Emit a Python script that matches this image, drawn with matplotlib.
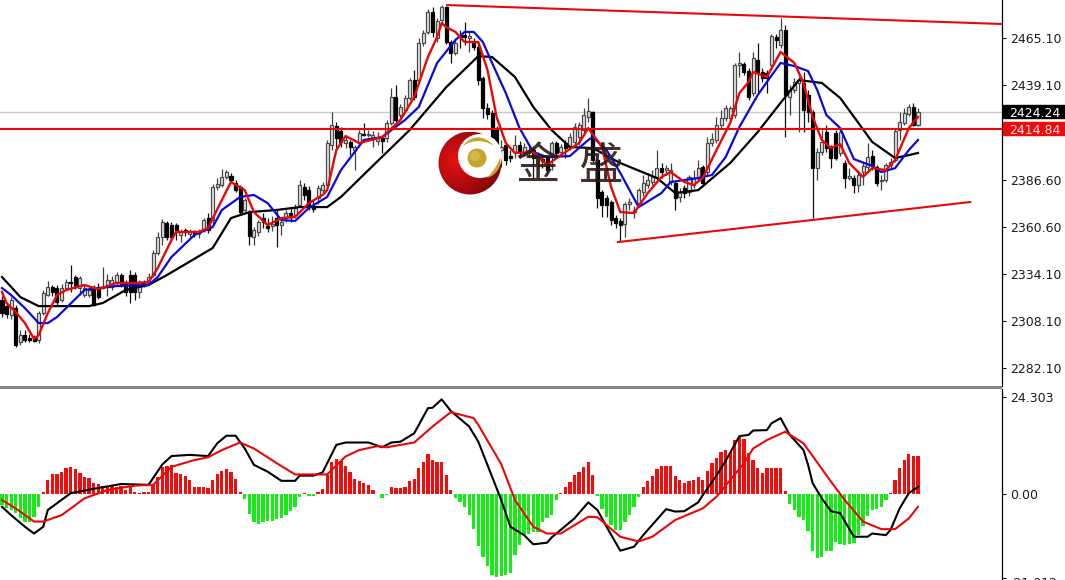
#!/usr/bin/env python3
import matplotlib

matplotlib.use("Agg")
import matplotlib.pyplot as plt
import numpy as np
from matplotlib.patches import Circle, PathPatch, Rectangle
from matplotlib.path import Path
from matplotlib.transforms import blended_transform_factory


# candles, one value per bar
candle_open = [
    2319.8, 2316.5, 2311.5, 2315.4, 2296.6, 2300.4, 2298.8, 2298.8, 2297.7, 2312.6,
    2322.6, 2327.1, 2326.5, 2319.8, 2326.5, 2329.8, 2332.6, 2326.5, 2322.6, 2322.6,
    2327.1, 2327.1, 2326.5, 2327.1, 2327.1, 2329.8, 2333.7, 2329.3, 2333.7, 2333.7,
    2324.3, 2329.8, 2329.3, 2333.7, 2345.9, 2354.8, 2362.5, 2361.4, 2361.4, 2355.9,
    2358.7, 2356.4, 2357.6, 2356.4, 2358.7, 2365.3, 2364.2, 2382.5, 2383.6, 2388.1,
    2388.6, 2384.7, 2382.5, 2369.8, 2368.1, 2354.8, 2357.6, 2365.3, 2360.9, 2360.9,
    2365.3, 2361.4, 2365.3, 2368.1, 2367.0, 2372.5, 2382.5, 2380.8, 2371.4, 2376.4,
    2380.8, 2383.6, 2405.8, 2416.3, 2413.6, 2406.9, 2407.5, 2403.0, 2406.9, 2411.9,
    2411.3, 2409.7, 2408.0, 2409.7, 2409.7, 2418.0, 2432.4, 2422.4, 2425.2, 2431.9,
    2441.8, 2441.8, 2462.4, 2468.5, 2479.5, 2465.1, 2475.1, 2482.3, 2462.9, 2456.8,
    2466.8, 2466.8, 2465.1, 2462.9, 2460.1, 2442.9, 2426.3, 2423.5, 2415.2, 2403.0,
    2405.8, 2399.7, 2401.9, 2405.8, 2401.9, 2401.4, 2403.0, 2395.8, 2398.0, 2398.6,
    2399.1, 2406.9, 2401.9, 2406.9, 2404.7, 2407.5, 2410.2, 2414.1, 2421.3, 2424.1,
    2397.5, 2379.7, 2376.4, 2374.2, 2365.3, 2363.7, 2362.0, 2373.1, 2368.6, 2373.6,
    2379.7, 2383.6, 2385.3, 2388.1, 2393.0, 2391.9, 2385.3, 2384.7, 2377.0, 2381.9,
    2379.7, 2383.6, 2387.5, 2393.6, 2390.8, 2406.9, 2408.6, 2416.9, 2420.8, 2420.8,
    2422.4, 2450.2, 2450.7, 2446.8, 2434.6, 2452.9, 2446.3, 2445.7, 2450.2, 2465.7,
    2461.2, 2469.6, 2432.4, 2436.3, 2440.2, 2440.2, 2433.5, 2424.1, 2393.0, 2401.9,
    2413.0, 2404.1, 2412.4, 2401.4, 2395.8, 2387.5, 2387.5, 2383.6, 2390.8, 2393.6,
    2399.7, 2393.6, 2385.8, 2386.4, 2394.7, 2397.5, 2414.1, 2418.0, 2423.0, 2426.9,
    2416.9,
]
candle_close = [
    2312.6, 2312.1, 2319.8, 2294.9, 2300.4, 2297.7, 2297.7, 2297.1, 2312.6, 2323.7,
    2327.1, 2324.3, 2318.7, 2326.5, 2329.8, 2329.3, 2327.1, 2332.0, 2326.5, 2325.4,
    2317.1, 2321.5, 2327.1, 2330.9, 2330.9, 2333.7, 2328.7, 2324.3, 2324.3, 2324.3,
    2329.8, 2328.2, 2332.6, 2345.9, 2354.8, 2363.1, 2354.8, 2354.8, 2358.7, 2357.6,
    2357.6, 2357.6, 2356.4, 2357.6, 2364.2, 2358.7, 2382.5, 2384.2, 2388.1, 2390.8,
    2386.4, 2380.8, 2368.6, 2375.3, 2355.3, 2358.7, 2363.1, 2363.1, 2359.8, 2362.0,
    2361.4, 2363.1, 2368.1, 2365.9, 2370.9, 2383.6, 2378.1, 2371.4, 2370.3, 2381.9,
    2383.6, 2406.9, 2416.9, 2409.7, 2407.5, 2408.6, 2404.7, 2404.7, 2412.4, 2411.3,
    2411.9, 2411.3, 2409.7, 2408.0, 2418.0, 2432.4, 2419.7, 2426.9, 2431.9, 2441.8,
    2432.4, 2462.4, 2467.9, 2479.5, 2468.5, 2474.6, 2482.3, 2462.9, 2456.8, 2462.4,
    2465.7, 2465.7, 2466.2, 2460.1, 2441.8, 2426.3, 2423.0, 2409.7, 2403.0, 2404.7,
    2397.5, 2398.6, 2405.8, 2401.9, 2404.7, 2403.0, 2398.6, 2399.1, 2396.9, 2391.9,
    2406.9, 2401.4, 2404.7, 2404.1, 2410.2, 2415.8, 2416.9, 2422.4, 2424.6, 2397.5,
    2376.4, 2372.5, 2372.5, 2364.2, 2362.5, 2361.4, 2373.1, 2374.2, 2369.8, 2380.8,
    2384.7, 2386.4, 2388.1, 2393.0, 2390.8, 2393.0, 2391.9, 2376.4, 2379.7, 2379.2,
    2388.1, 2387.5, 2393.0, 2384.7, 2406.9, 2409.1, 2416.9, 2420.8, 2426.3, 2426.3,
    2450.2, 2451.3, 2446.3, 2432.4, 2454.0, 2446.3, 2442.9, 2442.9, 2466.2, 2464.0,
    2469.6, 2433.5, 2436.3, 2440.7, 2441.8, 2425.2, 2424.1, 2393.0, 2401.9, 2407.5,
    2404.1, 2398.6, 2398.6, 2413.0, 2387.5, 2388.6, 2383.6, 2389.2, 2394.1, 2399.1,
    2394.7, 2384.7, 2386.4, 2394.7, 2396.4, 2413.6, 2418.6, 2423.5, 2426.9, 2416.9,
    2424.1,
]
candle_high = [
    2322.0, 2318.2, 2321.5, 2317.1, 2303.2, 2303.2, 2301.0, 2300.4, 2313.8, 2325.4,
    2330.4, 2328.2, 2328.2, 2328.7, 2331.5, 2339.3, 2333.7, 2333.2, 2328.2, 2327.1,
    2328.2, 2329.3, 2338.1, 2334.3, 2333.2, 2335.4, 2334.8, 2330.9, 2336.5, 2335.4,
    2330.9, 2330.9, 2334.8, 2347.6, 2357.6, 2364.8, 2363.7, 2363.1, 2362.5, 2359.2,
    2359.8, 2359.2, 2358.7, 2359.2, 2365.3, 2368.1, 2384.2, 2387.5, 2392.5, 2391.9,
    2390.3, 2386.4, 2383.6, 2376.4, 2369.8, 2360.3, 2364.2, 2368.1, 2365.3, 2366.4,
    2369.8, 2365.3, 2369.8, 2370.9, 2373.1, 2386.4, 2384.7, 2383.0, 2375.3, 2383.6,
    2385.3, 2408.6, 2424.1, 2418.6, 2415.8, 2410.8, 2408.6, 2405.8, 2414.1, 2418.0,
    2414.1, 2413.6, 2413.0, 2411.3, 2419.7, 2437.4, 2439.1, 2428.5, 2433.5, 2442.9,
    2447.4, 2465.1, 2469.6, 2481.2, 2482.3, 2476.2, 2483.4, 2482.9, 2464.0, 2465.1,
    2469.6, 2474.0, 2468.5, 2465.1, 2462.9, 2444.1, 2429.1, 2425.2, 2416.3, 2408.6,
    2406.9, 2403.0, 2411.3, 2408.0, 2406.9, 2405.2, 2405.2, 2401.9, 2400.2, 2399.7,
    2408.0, 2408.0, 2406.4, 2408.6, 2412.4, 2418.0, 2418.6, 2426.3, 2431.9, 2424.6,
    2398.6, 2380.8, 2378.1, 2375.3, 2367.0, 2365.3, 2374.2, 2376.4, 2372.0, 2381.9,
    2389.2, 2390.3, 2391.9, 2403.0, 2395.8, 2394.7, 2395.8, 2386.4, 2381.9, 2383.6,
    2389.2, 2391.9, 2397.5, 2394.7, 2410.2, 2412.4, 2421.3, 2425.2, 2428.0, 2427.4,
    2451.3, 2457.4, 2451.8, 2448.5, 2457.4, 2462.4, 2448.5, 2447.4, 2467.3, 2467.3,
    2476.2, 2472.3, 2439.1, 2442.9, 2444.1, 2446.3, 2436.3, 2425.2, 2404.1, 2414.1,
    2416.9, 2405.8, 2414.1, 2415.2, 2397.5, 2393.0, 2389.2, 2391.9, 2395.8, 2406.9,
    2403.0, 2394.7, 2389.2, 2395.8, 2398.6, 2414.7, 2424.1, 2426.3, 2428.5, 2429.1,
    2426.3,
]
candle_low = [
    2310.4, 2309.9, 2309.3, 2293.8, 2294.9, 2296.6, 2296.6, 2296.6, 2296.0, 2311.5,
    2322.1, 2322.1, 2317.1, 2318.7, 2325.4, 2324.3, 2325.9, 2322.6, 2321.5, 2321.5,
    2316.5, 2320.4, 2325.9, 2322.1, 2325.4, 2328.2, 2327.1, 2322.1, 2318.2, 2319.8,
    2321.0, 2327.1, 2328.2, 2332.6, 2344.8, 2350.3, 2353.1, 2352.6, 2353.1, 2352.0,
    2355.3, 2354.2, 2354.8, 2354.2, 2357.6, 2357.0, 2362.0, 2380.8, 2382.5, 2386.9,
    2385.3, 2379.7, 2367.0, 2368.6, 2350.3, 2350.3, 2355.3, 2359.8, 2357.6, 2358.1,
    2349.2, 2355.9, 2363.1, 2363.1, 2365.3, 2371.4, 2375.3, 2369.8, 2368.6, 2373.1,
    2379.2, 2382.5, 2403.0, 2404.1, 2404.7, 2404.1, 2400.2, 2391.9, 2404.7, 2410.8,
    2410.2, 2404.7, 2405.8, 2401.4, 2407.5, 2416.9, 2418.6, 2420.8, 2424.1, 2430.8,
    2430.8, 2440.7, 2460.7, 2467.3, 2465.7, 2462.9, 2474.0, 2461.8, 2451.3, 2455.7,
    2459.6, 2461.2, 2457.4, 2458.5, 2439.1, 2420.8, 2420.2, 2408.6, 2395.8, 2393.6,
    2394.7, 2396.4, 2398.6, 2398.6, 2399.7, 2399.1, 2387.5, 2391.9, 2393.0, 2389.2,
    2391.9, 2399.1, 2399.7, 2398.6, 2403.0, 2405.8, 2405.8, 2411.3, 2418.6, 2396.4,
    2370.9, 2365.9, 2365.9, 2361.4, 2359.8, 2352.6, 2354.8, 2369.8, 2365.3, 2372.0,
    2377.5, 2382.0, 2383.6, 2386.4, 2387.5, 2389.2, 2383.6, 2369.8, 2374.2, 2376.4,
    2377.5, 2381.9, 2385.8, 2383.0, 2389.2, 2405.2, 2406.9, 2415.2, 2419.1, 2418.6,
    2420.8, 2443.5, 2444.6, 2430.8, 2433.0, 2435.2, 2440.7, 2434.6, 2449.0, 2459.6,
    2459.6, 2410.2, 2422.4, 2434.6, 2413.0, 2413.0, 2418.6, 2365.3, 2386.4, 2400.2,
    2401.9, 2393.0, 2397.5, 2399.7, 2382.0, 2386.4, 2379.2, 2379.7, 2383.6, 2391.9,
    2391.9, 2383.0, 2380.8, 2385.3, 2393.0, 2396.4, 2408.6, 2416.9, 2421.9, 2416.3,
    2416.3,
]

# moving averages, read at the bends of each curve
slow_bars = [0, 2, 4, 8, 19, 22, 27, 32, 36, 46, 50, 54, 60, 65, 71, 74, 80, 89, 97, 104, 107,
             112, 116, 120, 124, 129, 135, 143, 147, 152, 159, 165, 171, 174, 179, 183,
             187, 190, 195, 198, 200]
slow_ma = [2332.6, 2327.1, 2321.5, 2316.5, 2316.5, 2318.2, 2325.4, 2328.2, 2333.7, 2348.7,
           2365.3, 2368.6, 2369.8, 2371.4, 2371.4, 2377.0, 2391.9, 2414.1, 2437.9, 2455.1,
           2454.6, 2443.5, 2426.9, 2414.1, 2404.7, 2404.1, 2395.8, 2387.5, 2379.2, 2380.8,
           2395.8, 2413.0, 2432.4, 2441.8, 2440.2, 2431.9, 2418.0, 2407.5, 2398.6, 2400.2,
           2401.4]
mid_bars = [0, 2, 5, 8, 10, 12, 14, 18, 21, 25, 32, 34, 37, 42, 46, 48, 52, 55, 58, 61, 64, 67,
            71, 74, 79, 83, 88, 91, 95, 99, 101, 103, 105, 107, 110, 113, 116, 119, 124,
            128, 129, 132, 135, 139, 144, 146, 152, 155, 158, 161, 165, 167, 170, 173,
            176, 178, 180, 183, 186, 190, 192, 195, 198, 200]
mid_ma = [2326.5, 2322.6, 2315.4, 2307.1, 2307.1, 2310.4, 2315.4, 2325.4, 2326.5, 2327.6,
          2328.2, 2332.6, 2343.7, 2355.9, 2360.3, 2369.8, 2377.0, 2378.1, 2373.6, 2364.2,
          2363.7, 2370.9, 2377.0, 2391.9, 2408.6, 2410.2, 2419.7, 2426.9, 2451.3, 2464.0,
          2468.5, 2468.5, 2462.9, 2451.3, 2434.6, 2415.2, 2401.9, 2399.1, 2399.7, 2408.6,
          2410.2, 2403.0, 2390.3, 2371.4, 2379.2, 2385.3, 2387.5, 2389.2, 2399.1, 2415.8,
          2433.5, 2440.7, 2451.3, 2449.6, 2446.8, 2436.3, 2422.4, 2415.2, 2398.0, 2394.2,
          2390.8, 2393.0, 2403.0, 2408.6]
fast_bars = [0, 1, 3, 5, 7, 8, 10, 12, 14, 18, 21, 25, 29, 32, 34, 37, 38, 43, 45, 48, 50, 53,
             55, 58, 61, 64, 67, 70, 71, 73, 75, 78, 83, 87, 90, 93, 95, 96, 97, 99, 101,
             104, 106, 108, 110, 112, 116, 119, 122, 126, 128, 131, 133, 135, 138, 141,
             144, 146, 149, 151, 153, 156, 159, 161, 163, 164, 167, 170, 173, 175, 177,
             179, 181, 183, 185, 188, 190, 193, 195, 198, 200]
fast_ma = [2324.3, 2318.2, 2313.2, 2307.1, 2298.2, 2300.4, 2312.6, 2322.6, 2325.4, 2328.2,
           2325.9, 2329.3, 2329.3, 2329.8, 2337.6, 2353.1, 2357.6, 2357.6, 2359.8, 2375.3,
           2385.3, 2380.8, 2368.6, 2361.4, 2365.3, 2365.9, 2373.6, 2378.1, 2380.8, 2403.0,
           2410.8, 2406.9, 2410.2, 2419.7, 2432.4, 2454.6, 2465.7, 2473.4, 2471.2, 2468.5,
           2462.9, 2462.9, 2447.4, 2421.3, 2406.9, 2401.4, 2401.9, 2394.7, 2400.2, 2406.9,
           2415.2, 2404.7, 2382.5, 2368.6, 2368.1, 2379.2, 2388.1, 2390.8, 2385.3, 2383.6,
           2387.5, 2403.0, 2418.0, 2434.6, 2440.7, 2446.3, 2443.5, 2457.4, 2451.3, 2440.2,
           2421.3, 2408.6, 2404.1, 2406.3, 2395.8, 2388.1, 2393.0, 2391.9, 2397.5, 2415.2,
           2421.3]

# trend lines: (bar, price) at each end
upper_trend_bars = [97.2, 218.3]
upper_trend_prices = [2483.4, 2472.9]
lower_trend_bars = [134.5, 211.4]
lower_trend_prices = [2352.0, 2374.2]

price_ticks = [2465.10, 2439.10, 2386.60, 2360.60, 2334.10, 2308.10, 2282.10]
last_price = 2424.24
level_price = 2414.84

# MACD pane
macd_hist = [
    -2.8, -3.4, -4.0, -4.8, -6.1, -6.9, -6.9, -5.7, -3.2, 0.6,
    3.5, 5.0, 4.9, 5.6, 6.4, 6.7, 6.2, 5.2, 4.3, 3.9,
    2.8, 2.5, 2.0, 2.0, 2.0, 1.8, 2.0, 1.0, 1.8, 0.4,
    0.3, 0.4, 0.4, 2.3, 4.3, 6.8, 7.0, 7.3, 5.3, 4.9,
    4.6, 3.5, 1.8, 1.7, 1.8, 1.4, 3.5, 4.9, 5.8, 6.3,
    5.4, 3.8, 0.6, -1.3, -5.1, -7.1, -7.5, -7.1, -6.7, -6.7,
    -6.3, -6.1, -5.3, -4.3, -3.2, -0.7, 0.2, -0.4, -0.4, 0.6,
    1.3, 4.8, 7.9, 8.8, 8.3, 7.1, 5.4, 3.7, 3.3, 2.7,
    2.3, 1.0, -0.1, -0.9, -0.3, 1.8, 1.4, 1.4, 1.8, 3.3,
    3.8, 6.4, 8.1, 10.0, 8.5, 8.1, 8.1, 4.8, 1.1, -0.9,
    -1.9, -3.2, -5.3, -8.8, -13.0, -15.7, -18.0, -20.3, -20.7, -20.5,
    -20.3, -19.9, -15.3, -12.8, -10.3, -9.9, -9.4, -9.4, -6.9, -6.1,
    -5.3, -1.5, 0.2, 1.8, 3.1, 4.8, 5.4, 6.8, 7.9, 4.8,
    -0.5, -3.8, -5.7, -7.8, -9.0, -9.0, -6.9, -5.3, -3.2, -0.7,
    1.7, 3.3, 4.6, 6.2, 7.0, 7.1, 7.0, 4.5, 3.5, 2.8,
    3.3, 3.5, 4.2, 3.5, 5.8, 7.7, 9.1, 10.4, 10.9, 10.6,
    13.5, 14.4, 13.7, 10.2, 8.5, 6.4, 5.2, 6.4, 6.4, 6.4,
    6.4, 0.8, -2.6, -4.0, -5.7, -6.5, -9.2, -14.4, -16.1, -15.9,
    -14.3, -14.4, -12.1, -12.4, -12.8, -12.6, -12.2, -10.3, -7.9, -5.4,
    -4.0, -3.8, -3.2, -1.5, 0.2, 3.5, 6.4, 8.5, 9.9, 9.4,
    9.4,
]
macd_bars = [0, 2, 5, 7, 9, 10, 15, 20, 26, 32, 35, 37, 41, 45, 47, 49, 51, 53, 55, 58, 61,
             64, 65, 68, 70, 73, 75, 80, 83, 85, 87, 90, 93, 94, 96, 98, 102, 104, 109,
             111, 114, 116, 119, 120, 125, 128, 130, 132, 135, 138, 140, 145, 147, 149,
             152, 153, 156, 158, 161, 163, 164, 167, 168, 170, 172, 175, 176, 177, 179,
             181, 183, 186, 189, 190, 193, 194, 196, 198, 200]
macd_line = [-3.2, -5.3, -8.2, -9.9, -8.2, -4.0, 0.2, 1.3, 2.5, 2.3,
             7.4, 9.5, 9.8, 9.5, 12.7, 14.6, 14.6, 11.4, 7.3, 5.6,
             3.3, 3.3, 4.6, 4.6, 5.4, 12.3, 12.9, 12.9, 11.7, 12.9,
             13.1, 15.2, 21.5, 21.6, 23.7, 20.8, 16.9, 13.1, -1.5, -8.2,
             -10.3, -12.6, -12.2, -10.9, -6.1, -2.1, -4.0, -8.2, -14.2, -13.2,
             -10.3, -3.8, -4.4, -4.3, -2.1, -0.3, 4.6, 8.3, 14.5, 14.8,
             15.9, 16.0, 17.7, 19.0, 14.8, 11.0, 7.3, 2.7, -1.1, -4.3,
             -4.8, -10.7, -10.7, -9.9, -10.3, -9.0, -3.6, 0.2, 1.8]
signal_bars = [0, 3, 7, 9, 13, 18, 23, 29, 33, 37, 42, 45, 48, 52, 55, 60, 64, 71, 75, 78, 82,
               84, 90, 94, 98, 103, 104, 109, 112, 116, 119, 122, 128, 130, 135, 139,
               142, 147, 153, 156, 162, 164, 167, 171, 175, 181, 184, 188, 192, 195, 198, 200]
signal_line = [-1.5, -3.6, -6.9, -6.9, -5.3, -1.1, 1.0, 2.1, 2.3, 6.8,
               8.5, 9.2, 11.0, 12.9, 11.4, 7.7, 4.9, 4.9, 9.4, 11.0,
               12.0, 11.7, 12.9, 16.9, 20.5, 19.0, 17.3, 7.5, -1.5, -8.2,
               -9.9, -9.9, -5.7, -5.8, -10.7, -11.9, -10.7, -6.5, -3.6, -0.7,
               7.7, 11.4, 13.5, 15.6, 12.7, 3.1, -1.5, -6.9, -8.8, -8.8, -6.1, -3.2]
macd_ticks = [24.303, 0.0, -21.012]

FIG_W, FIG_H = 1065, 580
AXIS_X = 1002
TEXT_DARK = "#1c1c1c"
RED = "#e80808"


def pane(fig, top, bottom):
    return fig.add_axes([0, 1 - bottom / FIG_H, AXIS_X / FIG_W, (bottom - top) / FIG_H])


def style_pane(ax, ylim):
    # bar 0 sits 2px in, bars are 4.58px apart
    ax.set_xlim(-2 / 4.58, (AXIS_X - 2) / 4.58)
    ax.set_ylim(*ylim)
    for side in ["top", "left", "bottom"]:
        ax.spines[side].set_visible(False)
    ax.spines["right"].set_linewidth(0.9)
    ax.set_xticks([])
    ax.yaxis.tick_right()
    ax.tick_params(axis="y", length=3, width=0.7, pad=3, labelsize=9, labelcolor=TEXT_DARK)


def draw_candles(ax):
    bars = np.arange(len(candle_open))
    opens = np.array(candle_open)
    closes = np.array(candle_close)
    lows = np.array(candle_low)
    highs = np.array(candle_high)
    up = closes >= opens
    ax.vlines(bars[up], lows[up], highs[up], color="#404040", lw=0.9, zorder=2)
    ax.vlines(bars[~up], lows[~up], highs[~up], color="#101010", lw=0.9, zorder=2)
    ax.bar(bars[up], (closes - opens)[up], bottom=opens[up], width=0.66, color="#e4e4e4",
           edgecolor="#4a4a4a", linewidth=0.9, zorder=3)
    ax.bar(bars[~up], (closes - opens)[~up], bottom=opens[~up], width=0.66, color="black",
           edgecolor="black", linewidth=0.9, zorder=3)


def price_tag(ax, price, face, text_color):
    trans = blended_transform_factory(ax.transAxes, ax.transData)
    ax.add_patch(Rectangle((1.001, price - 3.6), 63 / AXIS_X, 7.2, transform=trans, color=face,
                           clip_on=False, zorder=6))
    ax.text(1.0075, price, f"{price:.2f}", transform=trans, color=text_color, fontsize=9,
            va="center_baseline", ha="left", clip_on=False, zorder=7)


def draw_logo(fig):
    # watermark sits over the chart, drawn in picture pixels
    logo = fig.add_axes([0, 0, 1, 1], zorder=10)
    logo.set_xlim(0, FIG_W)
    logo.set_ylim(FIG_H, 0)
    logo.axis("off")
    logo.patch.set_alpha(0)

    yy, xx = np.mgrid[132:195, 438:502]
    dist = np.hypot(xx - 456, yy - 160) / 48
    dist = np.clip(dist, 0, 1)
    shade = np.zeros(dist.shape + (3,))
    shade[..., 0] = 0.90 - 0.42 * dist
    shade[..., 1] = 0.07 - 0.05 * dist
    shade[..., 2] = 0.08 - 0.05 * dist
    img = logo.imshow(shade, extent=(438, 502, 195, 132), interpolation="bilinear", zorder=1)
    img.set_clip_path(Circle((470, 163), 31.5, transform=logo.transData))
    logo.set_xlim(0, FIG_W)
    logo.set_ylim(FIG_H, 0)
    logo.set_aspect("auto")

    logo.add_patch(Circle((480, 156), 22, color="white", zorder=2, lw=0))
    logo.add_patch(Circle((477, 158), 9.5, color="#c4a62c", zorder=3, lw=0))
    logo.add_patch(Circle((475, 156), 5, color="#dcc65e", zorder=3, lw=0, alpha=0.6))

    top_swoosh = Path(
        [(463, 146), (470, 136), (483, 133), (494, 146), (483, 139), (472, 140), (463, 146)],
        [Path.MOVETO, Path.CURVE4, Path.CURVE4, Path.CURVE4, Path.CURVE4, Path.CURVE4, Path.CURVE4],
    )
    low_swoosh = Path(
        [(487, 178), (497, 175), (502, 166), (500, 157), (498, 165), (494, 170), (487, 178)],
        [Path.MOVETO, Path.CURVE4, Path.CURVE4, Path.CURVE4, Path.CURVE4, Path.CURVE4, Path.CURVE4],
    )
    logo.add_patch(PathPatch(top_swoosh, color="#c4a62c", lw=0, zorder=3))
    logo.add_patch(PathPatch(low_swoosh, color="#c4a62c", lw=0, zorder=3))

    for char, x in zip("金盛", [538, 600]):
        logo.text(x, 166, char, fontsize=32, ha="center", va="center", color="#2a1a14",
                  family=["Noto Sans CJK SC", "DejaVu Sans"], zorder=4, alpha=0.9)

    # separator between the panes
    logo.add_patch(Rectangle((0, 386), AXIS_X, 3, color="#858585", lw=0, zorder=5))


def main():
    fig = plt.figure(figsize=(FIG_W / 100, FIG_H / 100), dpi=100, facecolor="white")

    price_ax = pane(fig, 0, 386)
    style_pane(price_ax, (2272.2, 2486.2))
    price_ax.set_yticks(price_ticks, [f"{t:.2f}" for t in price_ticks])

    draw_candles(price_ax)
    price_ax.axhline(last_price, color="#c8c8c8", lw=1.0, zorder=1)
    price_ax.plot(slow_bars, slow_ma, color="black", lw=1.6, zorder=4)
    price_ax.plot(mid_bars, mid_ma, color="#0a0ad8", lw=1.6, zorder=5)
    price_ax.plot(fast_bars, fast_ma, color=RED, lw=1.7, zorder=6)
    price_ax.axhline(level_price, color=RED, lw=1.5, zorder=6)
    price_ax.plot(upper_trend_bars, upper_trend_prices, color=RED, lw=1.5, zorder=6)
    price_ax.plot(lower_trend_bars, lower_trend_prices, color=RED, lw=1.5, zorder=6)
    price_tag(price_ax, last_price, "black", "white")
    price_tag(price_ax, level_price, "#f00a0a", "#f4e4e4")

    macd_ax = pane(fig, 389, 580)
    style_pane(macd_ax, (-21.54, 26.3))
    macd_ax.set_yticks(macd_ticks, ["24.303", "0.00", ""])
    # the lowest label runs off the bottom of the picture, as in the source
    macd_ax.annotate("-21.012", xy=(1, -21.012), xycoords=("axes fraction", "data"),
                     xytext=(5, -4), textcoords="offset points", fontsize=9,
                     color=TEXT_DARK, va="center", annotation_clip=False)

    hist = np.array(macd_hist)
    hist_colors = ["#f40c0c" if v > 0 else "#12ee12" for v in hist]
    macd_ax.bar(np.arange(len(hist)), hist, width=0.72, color=hist_colors, linewidth=0, zorder=2)
    macd_ax.plot(macd_bars, macd_line, color="black", lw=1.5, zorder=3)
    macd_ax.plot(signal_bars, signal_line, color=RED, lw=1.5, zorder=4)

    draw_logo(fig)

    fig.savefig("out.png", dpi=100, facecolor="white")


if __name__ == "__main__":
    main()
